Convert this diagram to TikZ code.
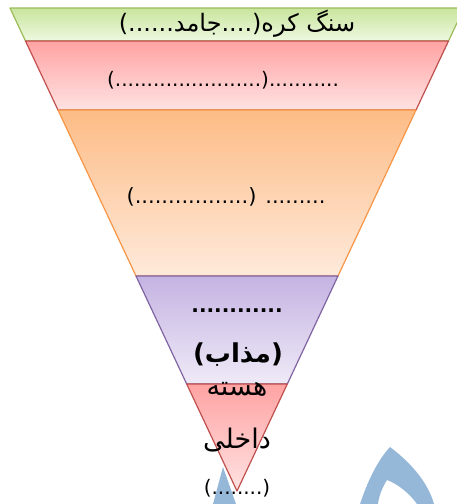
\documentclass[tikz,border=0pt]{standalone}
\usepackage{fontspec}
\newfontfamily\fa[Script=Arabic]{DejaVu Sans}
\TeXXeTstate=1
\definecolor{crustline}{HTML}{9BBB59}
\definecolor{crusttop}{HTML}{C9E59D}
\definecolor{crustbot}{HTML}{EEF8E0}
\definecolor{redline}{HTML}{C0504D}
\definecolor{redtop}{HTML}{FFA3A3}
\definecolor{redbot}{HTML}{FFE2E2}
\definecolor{orangeline}{HTML}{F79646}
\definecolor{orangetop}{HTML}{FDBC86}
\definecolor{orangebot}{HTML}{FEEADB}
\definecolor{purpleline}{HTML}{8064A2}
\definecolor{purpletop}{HTML}{C4B3E2}
\definecolor{purplebot}{HTML}{EFEAF7}
\definecolor{markblue}{HTML}{95B8D9}
\newcommand\fasize[1]{\fa\fontsize{#1}{#1}\selectfont}
\tikzset{
  layer/.style 2 args={draw=#1, line width=1.2pt, top color=#2, line join=round},
  label/.style={font=\fasize{20}, inner sep=0pt},
}
\begin{document}
\begin{tikzpicture}[x=1pt, y=-1pt]
\useasboundingbox (0,0) rectangle (456,504);
% watermark shapes
\fill[markblue] (360,504) .. controls (368,480) and (378,460) .. (390,447)
  .. controls (410,462) and (428,482) .. (434,504) -- (417,504)
  .. controls (410,494) and (398,484) .. (387,480)
  .. controls (382,488) and (379,496) .. (378,504) -- cycle;
\fill[markblue] (213,504) -- (223,467) -- (236,504) -- cycle;
% layers
\path[layer={crustline}{crusttop}, bottom color=crustbot] (10,8) -- (464,8) -- (448.5,41) -- (25.5,41) -- cycle;
\path[layer={redline}{redtop}, bottom color=redbot] (25.5,41) -- (448.5,41) -- (416,110) -- (58,110) -- cycle;
\path[layer={orangeline}{orangetop}, bottom color=orangebot] (58,110) -- (416,110) -- (338,276) -- (136,276) -- cycle;
\path[layer={purpleline}{purpletop}, bottom color=purplebot] (136,276) -- (338,276) -- (287.3,384) -- (186.7,384) -- cycle;
\path[layer={redline}{redtop}, bottom color=redbot] (186.7,384) -- (287.3,384) -- (237,491) -- cycle;
% texts
\node[label, font=\fasize{24}] (crust) at (237,24) {\beginR سنگ کره(....جامد......)\endR};
\node[label] (mantle) at (223,80) {\beginR ...........(.......................)\endR};
\node[label, font=\fasize{21}] (outer) at (226,197) {\beginR ......... (.................)\endR};
\node[label, font=\fasize{20}\bfseries] (liquid) at (237,311) {\beginR ............\endR};
\node[label, font=\fasize{26}\bfseries] (molten) at (238,355) {\beginR (مذاب)\endR};
\node[label, font=\fasize{27}] (core1) at (237,389) {\beginR هسته\endR};
\node[label, font=\fasize{27}] (core2) at (237,440) {\beginR داخلی\endR};
\node[label] (core3) at (237,488) {\beginR (........)\endR};
\end{tikzpicture}
\end{document}
